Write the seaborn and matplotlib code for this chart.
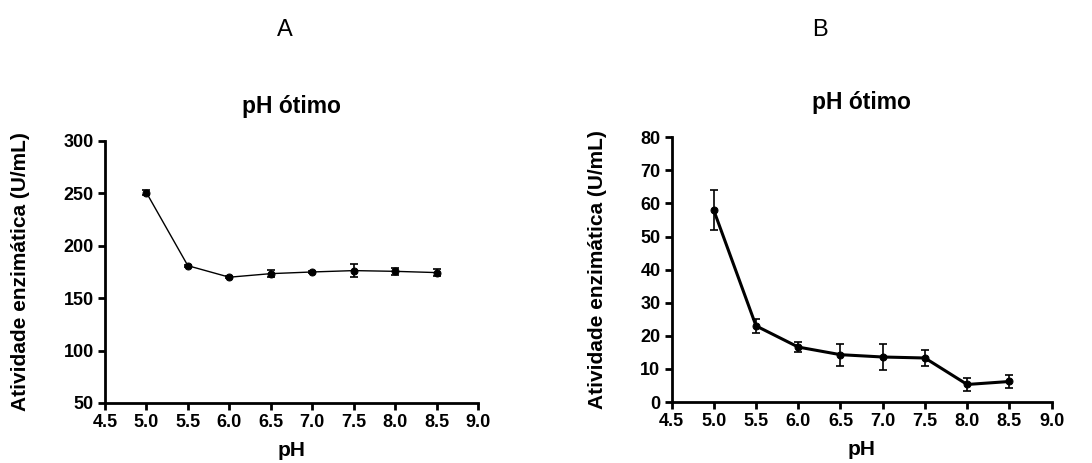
import matplotlib
matplotlib.use("Agg")
import matplotlib.pyplot as plt
import seaborn as sns
import pandas as pd
from matplotlib.ticker import FormatStrFormatter

sns.set_style("ticks")
plt.rcParams['font.family'] = ['Liberation Sans', 'DejaVu Sans']
plt.rcParams['font.weight'] = 'bold'
plt.rcParams['text.color'] = 'black'
plt.rcParams['axes.labelcolor'] = 'black'
plt.rcParams['xtick.color'] = 'black'
plt.rcParams['ytick.color'] = 'black'

ph = [5.0, 5.5, 6.0, 6.5, 7.0, 7.5, 8.0, 8.5]
atividade_a = [250.8, 181.0, 170.0, 173.4, 175.0, 176.3, 175.6, 174.4]
erro_a = [2.0, 0.8, 0.8, 3.0, 1.0, 6.0, 3.5, 3.5]
atividade_b = [57.9, 23.0, 16.6, 14.3, 13.6, 13.3, 5.3, 6.2]
erro_b = [6.0, 2.0, 1.4, 3.3, 3.9, 2.5, 2.1, 2.1]
xticks = [4.5, 5.0, 5.5, 6.0, 6.5, 7.0, 7.5, 8.0, 8.5, 9.0]

fig = plt.figure(figsize=(10.92, 4.63), dpi=100)
ax1 = fig.add_axes([0.096, 0.1296, 0.342, 0.566])
ax2 = fig.add_axes([0.615, 0.1317, 0.348, 0.572])

def draw(ax, y, e, lw, ylim, yticks):
    df = pd.DataFrame({"pH": ph, "val": y})
    ax.errorbar(ph, y, yerr=e, fmt='none', ecolor='black', elinewidth=1.2,
                capsize=3, capthick=1.2, zorder=2)
    sns.lineplot(data=df, x="pH", y="val", ax=ax, color='black', linewidth=lw,
                 marker='o', markersize=5, markeredgecolor='black', zorder=3)
    ax.set_xlim(4.5, 9.0)
    ax.set_ylim(*ylim)
    ax.set_xticks(xticks)
    ax.set_yticks(yticks)
    ax.xaxis.set_major_formatter(FormatStrFormatter('%.1f'))
    ax.set_xlabel("pH", fontsize=15, fontweight='bold', labelpad=7, color='black')
    ax.set_ylabel("Atividade enzimática (U/mL)", fontsize=15, fontweight='bold',
                  labelpad=24, color='black')
    ax.set_title("pH ótimo", fontsize=16.5, fontweight='bold', pad=20, color='black')
    for s in ['top', 'right']:
        ax.spines[s].set_visible(False)
    for s in ['left', 'bottom']:
        ax.spines[s].set_linewidth(2)
        ax.spines[s].set_color('black')
    ax.tick_params(axis='both', width=2, length=5, labelsize=13, direction='out',
                   color='black', labelcolor='black', pad=3)
    for lab in ax.get_xticklabels() + ax.get_yticklabels():
        lab.set_fontweight('bold')

draw(ax1, atividade_a, erro_a, 1.0, (50, 300), [50, 100, 150, 200, 250, 300])
draw(ax2, atividade_b, erro_b, 2.2, (0, 80), list(range(0, 81, 10)))

fig.text(285/1092, 1 - 30/463, "A", fontsize=17, fontweight='normal', ha='center', va='center')
fig.text(820/1092, 1 - 30/463, "B", fontsize=17, fontweight='normal', ha='center', va='center')

fig.savefig("out.png", dpi=100)
